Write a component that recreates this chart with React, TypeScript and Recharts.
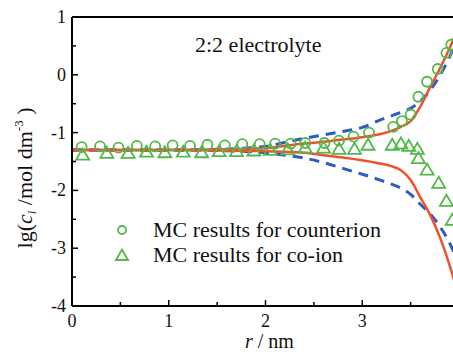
import React from "react";
import {
  ComposedChart,
  Line,
  Scatter,
  XAxis,
  YAxis,
  ReferenceLine,
} from "recharts";

// theory curves share one r grid (nm)
const rGrid = [0, 0.5, 1, 1.5, 2, 2.2, 2.4, 2.6, 2.8, 3, 3.2, 3.3, 3.4, 3.5, 3.6, 3.7, 3.8, 3.9, 4];
const solidCounter = [-1.3, -1.3, -1.3, -1.29, -1.27, -1.23, -1.19, -1.16, -1.12, -1.08, -1.02, -0.97, -0.9, -0.8, -0.55, -0.22, 0.1, 0.45, 0.85];
const dashedCounter = [-1.3, -1.3, -1.3, -1.29, -1.24, -1.17, -1.1, -1.04, -0.98, -0.91, -0.77, -0.71, -0.65, -0.58, -0.46, -0.27, -0.02, 0.3, 0.7];
const solidCo = [-1.3, -1.3, -1.3, -1.31, -1.32, -1.33, -1.35, -1.39, -1.43, -1.48, -1.54, -1.58, -1.65, -1.82, -2.12, -2.42, -2.8, -3.28, -3.85];
const dashedCo = [-1.3, -1.3, -1.3, -1.31, -1.35, -1.39, -1.44, -1.52, -1.62, -1.72, -1.83, -1.89, -1.96, -2.07, -2.24, -2.4, -2.62, -2.9, -3.3];

// MC results
const mcCounterR = [0.1, 0.29, 0.48, 0.67, 0.86, 1.04, 1.22, 1.4, 1.58, 1.76, 1.94, 2.1, 2.26, 2.41, 2.61, 2.76, 2.91, 3.07, 3.32, 3.41, 3.5, 3.58, 3.67, 3.78, 3.87, 3.92];
const mcCounter = [-1.25, -1.24, -1.26, -1.23, -1.24, -1.22, -1.23, -1.21, -1.22, -1.2, -1.2, -1.19, -1.19, -1.18, -1.18, -1.14, -1.07, -1.0, -0.9, -0.8, -0.69, -0.38, -0.12, 0.1, 0.38, 0.52];
const mcCoR = [0.11, 0.36, 0.58, 0.77, 0.96, 1.15, 1.34, 1.52, 1.7, 1.88, 2.05, 2.23, 2.41, 2.6, 2.76, 2.92, 3.06, 3.31, 3.4, 3.48, 3.57, 3.58, 3.67, 3.79, 3.87, 3.93];
const mcCo = [-1.38, -1.35, -1.35, -1.33, -1.34, -1.33, -1.34, -1.32, -1.32, -1.31, -1.3, -1.29, -1.26, -1.26, -1.28, -1.28, -1.21, -1.21, -1.19, -1.23, -1.28, -1.44, -1.64, -1.87, -2.18, -2.51];

const xTicks = [0, 0.5, 1, 1.5, 2, 2.5, 3, 3.5, 4];
const yTicks = [-4, -3.5, -3, -2.5, -2, -1.5, -1, -0.5, 0, 0.5, 1];

const RED = "#f0502c";
const BLUE = "#2d5cc2";
const GREEN = "#52b848";
const FONT = "Liberation Serif, Times New Roman, DejaVu Serif, serif";

const pts = (xs: number[], ys: number[]) => xs.map((x, i) => ({ x, y: ys[i] }));

const XTick = ({ x, y, payload }: any) => {
  const v = payload.value;
  const major = Number.isInteger(v);
  return (
    <g>
      <line x1={x} x2={x} y1={y} y2={y - (major ? 6 : 4)} stroke="#000" strokeWidth={1.5} />
      {major && v < 4 && (
        <text x={x} y={y + 21} textAnchor="middle" style={{ fontFamily: FONT }} fontSize={18} fill="#111">
          {v}
        </text>
      )}
    </g>
  );
};

const YTick = ({ x, y, payload }: any) => {
  const v = payload.value;
  const major = Number.isInteger(v);
  return (
    <g>
      <line x1={x} x2={x + (major ? 6 : 4)} y1={y} y2={y} stroke="#000" strokeWidth={1.5} />
      {major && (
        <text x={x - 6} y={y + 6} textAnchor="end" style={{ fontFamily: FONT }} fontSize={18} fill="#111">
          {v}
        </text>
      )}
    </g>
  );
};

const CircleMark = ({ cx, cy }: any) => (
  <circle cx={cx} cy={cy} r={5} fill="none" stroke={GREEN} strokeWidth={1.8} />
);

const TriMark = ({ cx, cy }: any) => (
  <polygon
    points={`${cx},${cy - 6} ${cx - 6.5},${cy + 5} ${cx + 6.5},${cy + 5}`}
    fill="none"
    stroke={GREEN}
    strokeWidth={1.8}
  />
);

const abs = (left: number, top: number, size: number): React.CSSProperties => ({
  position: "absolute",
  left,
  top,
  fontFamily: FONT,
  fontSize: size,
  lineHeight: 1,
  color: "#111",
  whiteSpace: "nowrap",
});

export default function App() {
  return (
    <div
      style={{
        position: "absolute",
        left: 0,
        top: 0,
        width: 453,
        height: 352,
        overflow: "hidden",
        background: "#fff",
      }}
    >
      <ComposedChart width={470} height={352} margin={{ top: 17, right: 11, bottom: 0, left: 0 }}>
        <XAxis
          dataKey="x"
          type="number"
          domain={[0, 4]}
          ticks={xTicks}
          allowDataOverflow
          height={46}
          tickLine={false}
          tickSize={0}
          tickMargin={0}
          tick={<XTick />}
          axisLine={{ stroke: "#000", strokeWidth: 2 }}
        />
        <YAxis
          type="number"
          domain={[-4, 1]}
          ticks={yTicks}
          allowDataOverflow
          width={72}
          tickLine={false}
          tickSize={0}
          tickMargin={0}
          tick={<YTick />}
          axisLine={{ stroke: "#000", strokeWidth: 2 }}
        />
        <ReferenceLine y={1} stroke="#000" strokeWidth={2} />
        <ReferenceLine x={4} stroke="#000" strokeWidth={2} />

        <Line data={pts(rGrid, dashedCounter)} dataKey="y" type="monotone" stroke={BLUE} strokeWidth={3} strokeDasharray="10 7" dot={false} isAnimationActive={false} />
        <Line data={pts(rGrid, dashedCo)} dataKey="y" type="monotone" stroke={BLUE} strokeWidth={3} strokeDasharray="10 7" dot={false} isAnimationActive={false} />
        <Line data={pts(rGrid, solidCounter)} dataKey="y" type="monotone" stroke={RED} strokeWidth={2.5} dot={false} isAnimationActive={false} />
        <Line data={pts(rGrid, solidCo)} dataKey="y" type="monotone" stroke={RED} strokeWidth={2.5} dot={false} isAnimationActive={false} />

        <Scatter data={pts(mcCounterR, mcCounter)} dataKey="y" shape={<CircleMark />} isAnimationActive={false} />
        <Scatter data={pts(mcCoR, mcCo)} dataKey="y" shape={<TriMark />} isAnimationActive={false} />
      </ComposedChart>

      <div style={abs(195, 33.5, 22)}>2:2 electrolyte</div>

      <svg style={{ position: "absolute", left: 112, top: 220 }} width={24} height={45}>
        <circle cx={10} cy={10} r={4} fill="none" stroke={GREEN} strokeWidth={1.8} />
        <polygon points="10,29.5 4,40 16,40" fill="none" stroke={GREEN} strokeWidth={1.8} />
      </svg>
      <div style={abs(153, 218.5, 22)}>MC results for counterion</div>
      <div style={abs(153, 243.5, 22)}>MC results for co-ion</div>

      <div style={abs(245, 331, 20)}>
        <i>r</i> / nm
      </div>

      <div
        style={{
          ...abs(25, 178, 22),
          transform: "translate(-50%, -50%) rotate(-90deg)",
        }}
      >
        lg(<i>c</i>
        <sub style={{ fontSize: 13, fontStyle: "italic", verticalAlign: "-4px" }}>i</sub>
        {"  /mol  dm"}
        <sup style={{ fontSize: 13, verticalAlign: "9px" }}>-3</sup>
        {" )"}
      </div>
    </div>
  );
}
